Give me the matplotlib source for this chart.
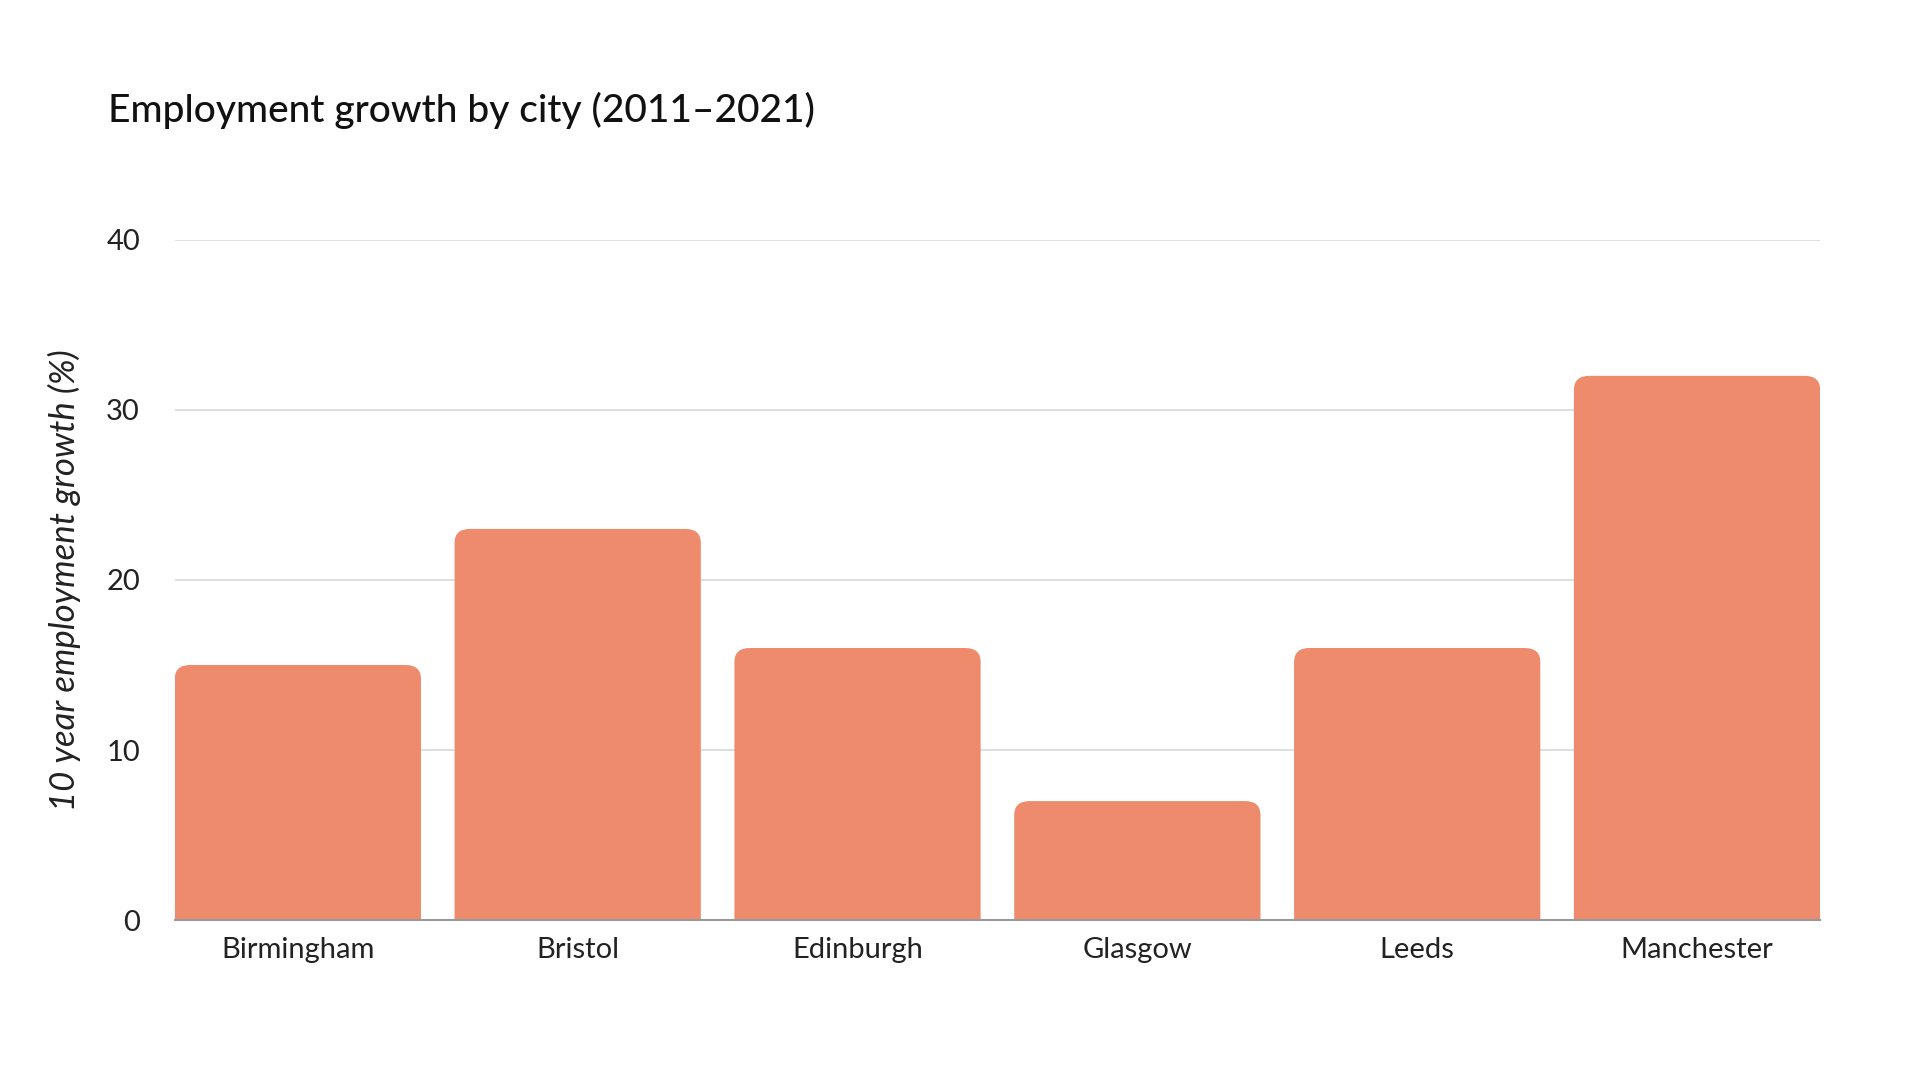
import matplotlib.pyplot as plt
from matplotlib.patches import FancyBboxPatch

cities = ['Birmingham', 'Bristol', 'Edinburgh', 'Glasgow', 'Leeds', 'Manchester']
growth = [15, 23, 16, 7, 16, 32]
y_ticks = [0, 10, 20, 30, 40]

plt.rcParams['font.family'] = ['Lato', 'DejaVu Sans']

fig = plt.figure(figsize=(19.2, 10.8), dpi=100)
ax = fig.add_axes([0.091, 0.148, 0.857, 0.63])

bar_color = '#EE8B6D'
width = 0.88
bars = ax.bar(range(len(cities)), growth, width=width, color='none')
for bar in bars:
    x = bar.get_x()
    h = bar.get_height()
    patch = FancyBboxPatch((x, -2), width, h + 2,
                           boxstyle='round,pad=0,rounding_size=0.055',
                           mutation_aspect=15, facecolor=bar_color,
                           edgecolor='none', zorder=2, clip_on=True)
    ax.add_patch(patch)

ax.set_xlim(-width / 2, len(cities) - 1 + width / 2)
ax.set_ylim(0, 40)
ax.set_yticks(y_ticks)
ax.set_xticks(range(len(cities)))
ax.set_xticklabels(cities)
ax.tick_params(axis='both', length=0, labelsize=21, colors='#222222')
ax.tick_params(axis='x', pad=12)
ax.tick_params(axis='y', pad=25)
ax.grid(axis='y', color='#d9d9d9', linewidth=1.2, zorder=0)
ax.set_axisbelow(True)
for side in ['top', 'right', 'left']:
    ax.spines[side].set_visible(False)
ax.spines['bottom'].set_color('#999999')
ax.spines['bottom'].set_linewidth(1.5)
ax.spines['bottom'].set_zorder(3)

ax.set_ylabel('10 year employment growth (%)', fontsize=25, style='italic',
              color='#222222', labelpad=18)
fig.text(0.056, 0.898, 'Employment growth by city (2011\u20132021)',
         fontsize=28, fontweight='medium', color='#111111', va='center')

fig.savefig('out.png', dpi=100, facecolor='white')
